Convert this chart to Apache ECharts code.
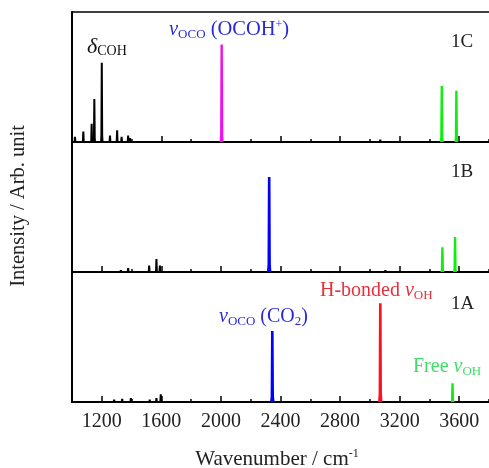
<!DOCTYPE html>
<html><head><meta charset="utf-8">
<script src="https://cdn.jsdelivr.net/npm/echarts@6/dist/echarts.min.js"></script>
<style>html,body{margin:0;padding:0;background:#fff}#c{width:489px;height:468px}</style>
</head><body><div id="c"></div>
<script>
// ---- data ----
const majorTicks = [1200, 1600, 2000, 2400, 2800, 3200, 3600];
const minorTicks = [1400, 1800, 2200, 2600, 3000, 3400, 3800];
const panelNames = ['1C', '1B', '1A'];
// [wavenumber, intensity %]
const c_black = [[1020,4],[1076,8],[1132,14],[1150,33],[1200,61],[1255,5],[1303,9],[1333,4],[1377,5],[1390,3],[3070,2]];
const c_magenta = [[2005,75]];
const c_green = [[3483,43],[3581,39.5]];
const b_black = [[1328,1.5],[1377,3],[1518,5],[1567,10],[1590,5],[3104,1.5]];
const b_blue = [[2324,73]];
const b_green = [[3487,19],[3572,27]];
const a_black = [[1283,2],[1337,2.5],[1395,3],[1522,2],[1567,3],[1596,6]];
const a_blue = [[2345,54.6]];
const a_red = [[3070,76]];
const a_green = [[3555,14.4]];

const SERIF = '"Liberation Serif","DejaVu Serif",serif';
const chart = echarts.init(document.getElementById('c'), null, {renderer:'canvas'});

const tops = [12, 142, 272];
const grids = tops.map(t => ({left:72, top:t, width:418, height:130, show:false}));

const xAxes = [], yAxes = [];
tops.forEach((t, i) => {
  xAxes.push({gridIndex:i, type:'value', min:1000, max:3800, position:'bottom',
    axisLine:{show:true, onZero:false, lineStyle:{color:'#000', width:2}},
    axisTick:{show:true, inside:true, length:6, customValues:majorTicks, lineStyle:{color:'#000', width:1.5}},
    splitLine:{show:false},
    axisLabel: i === 2 ? {show:true, customValues:majorTicks, margin:10, fontFamily:SERIF, fontSize:20, color:'#222', formatter:v => String(v)} : {show:false}
  });
  xAxes.push({gridIndex:i, type:'value', min:1000, max:3800, position:'bottom',
    axisLine:{show:false},
    axisTick:{show:true, inside:true, length:3, customValues:minorTicks, lineStyle:{color:'#000', width:1.5}},
    splitLine:{show:false}, axisLabel:{show:false}
  });
  yAxes.push({gridIndex:i, type:'value', min:0, max:100,
    axisLine:{show:true, onZero:false, lineStyle:{color:'#000', width:2}},
    axisTick:{show:false}, axisLabel:{show:false}, splitLine:{show:false}});
});
// top frame line of the upper panel
xAxes.push({gridIndex:0, type:'value', min:1000, max:3800, position:'top',
  axisLine:{show:true, onZero:false, lineStyle:{color:'#000', width:1.5}},
  axisTick:{show:false}, axisLabel:{show:false}, splitLine:{show:false}});

function peakSeries(data, gridIdx, color, baseW, topW) {
  return {
    type:'custom', xAxisIndex:gridIdx*2, yAxisIndex:gridIdx, data:data, clip:true, z:3,
    renderItem:function(params, api){
      const top = api.coord([api.value(0), api.value(1)]);
      const base = api.coord([api.value(0), 0]);
      const mid = api.coord([api.value(0), api.value(1)*0.08]);
      return {type:'polygon', shape:{points:[
        [base[0]-baseW/2, base[1]], [mid[0]-topW/2-0.4, mid[1]],
        [top[0]-topW/2, top[1]], [top[0]+topW/2, top[1]],
        [mid[0]+topW/2+0.4, mid[1]], [base[0]+baseW/2, base[1]]]},
        style:{fill:color}};
    }
  };
}

const series = [
  peakSeries(c_black, 0, '#000', 3.5, 2),
  peakSeries(c_magenta, 0, '#ee10ee', 4, 2.4),
  peakSeries(c_green, 0, '#10ee10', 4, 2.4),
  peakSeries(b_black, 1, '#000', 3.5, 2),
  peakSeries(b_blue, 1, '#0000ff', 4.5, 2.6),
  peakSeries(b_green, 1, '#10ee10', 4, 2.4),
  peakSeries(a_black, 2, '#000', 3.5, 2),
  peakSeries(a_blue, 2, '#0000ff', 4.5, 2.6),
  peakSeries(a_red, 2, '#ff1020', 4.5, 2.6),
  peakSeries(a_green, 2, '#10ee10', 4, 2.4)
];

function txt(x, y, text, rich) {
  return {type:'text', x:x, y:y, z:10, style:{text:text, rich:rich, fontFamily:SERIF, verticalAlign:'middle', align:'left'}};
}
const BLUE = '#2a2ad8', RED = '#e8303a', GREEN = '#3ede66';
const mk = (color, big) => ({
  v:{fontFamily:SERIF, fontStyle:'italic', fontSize:big, fill:color, lineHeight:22},
  n:{fontFamily:SERIF, fontSize:big, fill:color, lineHeight:22},
  s:{fontFamily:SERIF, fontSize:Math.round(big*0.65), fill:color, lineHeight:14, verticalAlign:'bottom'},
  p:{fontFamily:SERIF, fontSize:Math.round(big*0.6), fill:color, lineHeight:12, verticalAlign:'top'}
});

const graphics = [
  txt(87, 47, '{v|δ}{s|COH}', mk('#111', 22)),
  txt(169, 30, '{v|v}{s|OCO}{n| (OCOH}{p|+}{n|)}', mk(BLUE, 20.5)),
  txt(219, 317, '{v|v}{s|OCO}{n| (CO}{s|2}{n|)}', mk(BLUE, 20)),
  txt(320, 291, '{n|H-bonded }{v|v}{s|OH}', mk(RED, 20)),
  txt(413, 367, '{n|Free }{v|v}{s|OH}', mk(GREEN, 20)),
  {type:'text', x:451, y:42, z:10, style:{text:panelNames[0], fontFamily:SERIF, fontSize:19, fill:'#222', verticalAlign:'middle'}},
  {type:'text', x:451, y:172, z:10, style:{text:panelNames[1], fontFamily:SERIF, fontSize:19, fill:'#222', verticalAlign:'middle'}},
  {type:'text', x:451, y:304, z:10, style:{text:panelNames[2], fontFamily:SERIF, fontSize:19, fill:'#222', verticalAlign:'middle'}},
  {type:'text', x:277, y:459, z:10, style:{text:'{n|Wavenumber / cm}{p|-1}', fontFamily:SERIF, align:'center', verticalAlign:'middle',
    rich:{n:{fontFamily:SERIF, fontSize:21, fill:'#222', lineHeight:22}, p:{fontFamily:SERIF, fontSize:12, fill:'#222', lineHeight:12, verticalAlign:'top'}}}},
  {type:'text', x:19, y:206, rotation:Math.PI/2, z:10, style:{text:'Intensity / Arb. unit', fontFamily:SERIF, fontSize:20.5, fill:'#222', align:'center', verticalAlign:'middle'}}
];

chart.setOption({
  animation:false,
  grid:grids, xAxis:xAxes, yAxis:yAxes, series:series, graphic:graphics
});
</script></body></html>
